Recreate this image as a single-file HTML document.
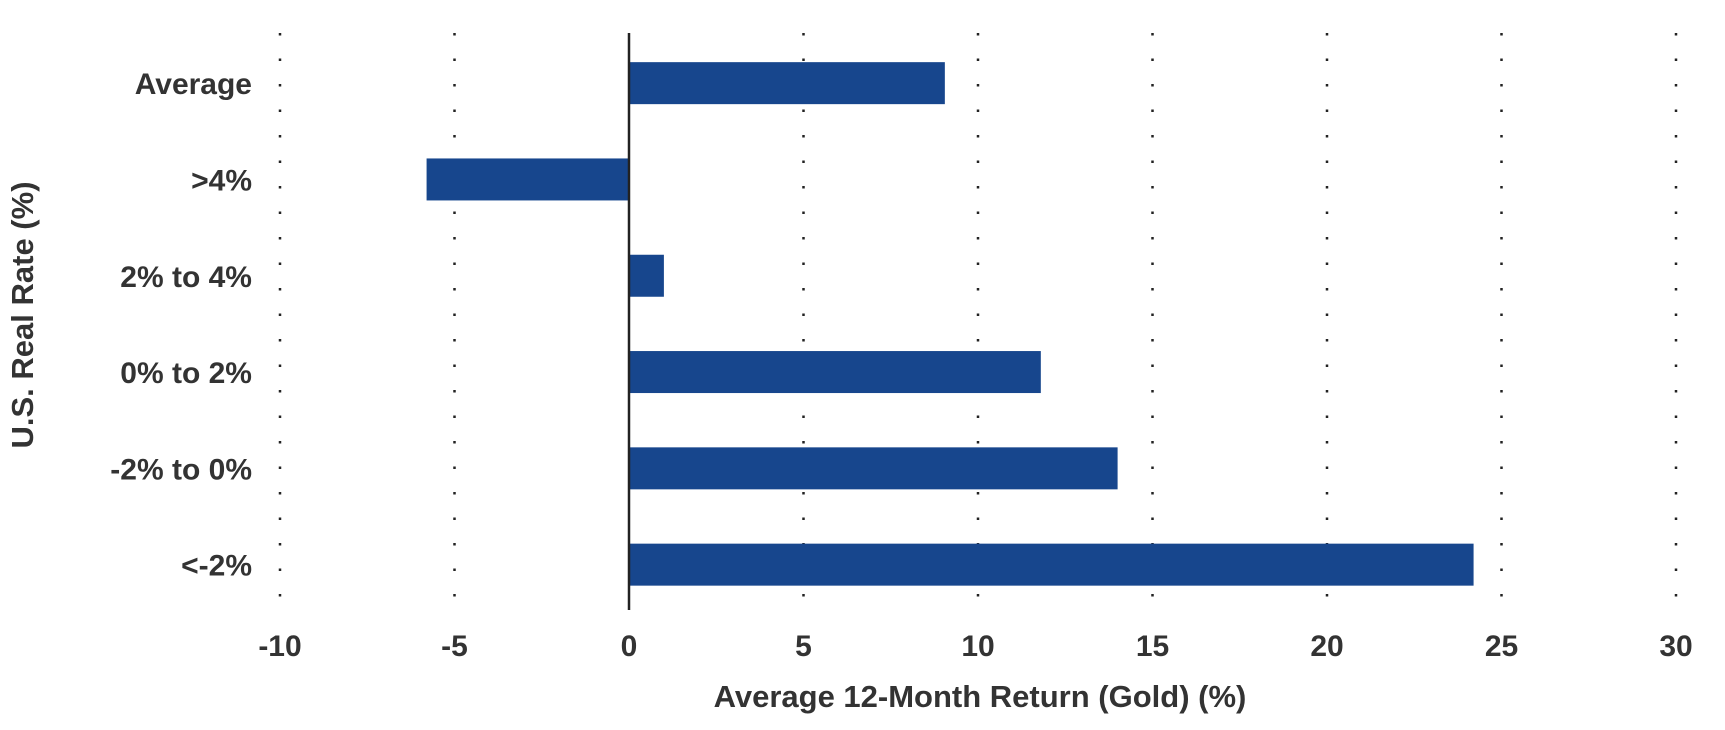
<!DOCTYPE html>
<html><head><meta charset="utf-8"><style>
html,body{margin:0;padding:0;background:#fff;}
svg{display:block;font-family:"Liberation Sans",sans-serif;}
</style></head><body>
<svg id="chart" width="1725" height="730" xmlns="http://www.w3.org/2000/svg"></svg>
<script>
const categories = ["Average", ">4%", "2% to 4%", "0% to 2%", "-2% to 0%", "<-2%"];
const values = [9.05, -5.8, 1.0, 11.8, 14.0, 24.2];
const tickValues = [-10, -5, 0, 5, 10, 15, 20, 25, 30];
const tickLabels = ["-10", "-5", "0", "5", "10", "15", "20", "25", "30"];

const svgEl = document.getElementById('chart');
const NS = 'http://www.w3.org/2000/svg';
const x0 = 280, x1 = 1676, xmin = -10, xmax = 30;
const plotTop = 33, plotBottom = 610;
const xScale = v => x0 + (v - xmin) / (xmax - xmin) * (x1 - x0);
const bandTop = 35, band = 96.3;
const yCenter = i => bandTop + band * (i + 0.5);
const barH = 42;
function mk(tag, attrs) { const e = document.createElementNS(NS, tag); for (const k in attrs) e.setAttribute(k, attrs[k]); svgEl.appendChild(e); return e; }

tickValues.forEach((v, i) => {
  if (v !== 0) {
    const g = mk('line', {x1: xScale(v), x2: xScale(v), y1: plotTop, y2: plotBottom, stroke: '#222', 'stroke-width': 2.5, 'stroke-dasharray': '2.5 23'});
    
    
  }
  const t = mk('text', {x: xScale(v), y: 656, 'text-anchor': 'middle', 'font-size': 30, 'font-weight': 'bold', fill: '#333'});
  t.textContent = tickLabels[i];
  
  
});

categories.forEach((c, i) => {
  const v = values[i];
  const xa = xScale(Math.min(0, v)), xb = xScale(Math.max(0, v));
  const r = mk('rect', {x: xa, y: yCenter(i) - barH / 2, width: xb - xa, height: barH, fill: '#17468d'});
  
  
  const t = mk('text', {x: 252, y: yCenter(i) + 11, 'text-anchor': 'end', 'font-size': 30, 'font-weight': 'bold', fill: '#333'});
  t.textContent = c;
  
  
});

const ax = mk('line', {x1: xScale(0), x2: xScale(0), y1: plotTop, y2: plotBottom, stroke: '#222', 'stroke-width': 2.5});



const xt = mk('text', {x: 980, y: 707, 'text-anchor': 'middle', 'font-size': 31, 'font-weight': 'bold', fill: '#333'});
xt.textContent = 'Average 12-Month Return (Gold) (%)';



const yt = mk('text', {x: 0, y: 0, 'text-anchor': 'middle', 'font-size': 31, 'font-weight': 'bold', fill: '#333', transform: 'translate(33,315) rotate(-90)'});
yt.textContent = 'U.S. Real Rate (%)';


</script>
</body></html>
